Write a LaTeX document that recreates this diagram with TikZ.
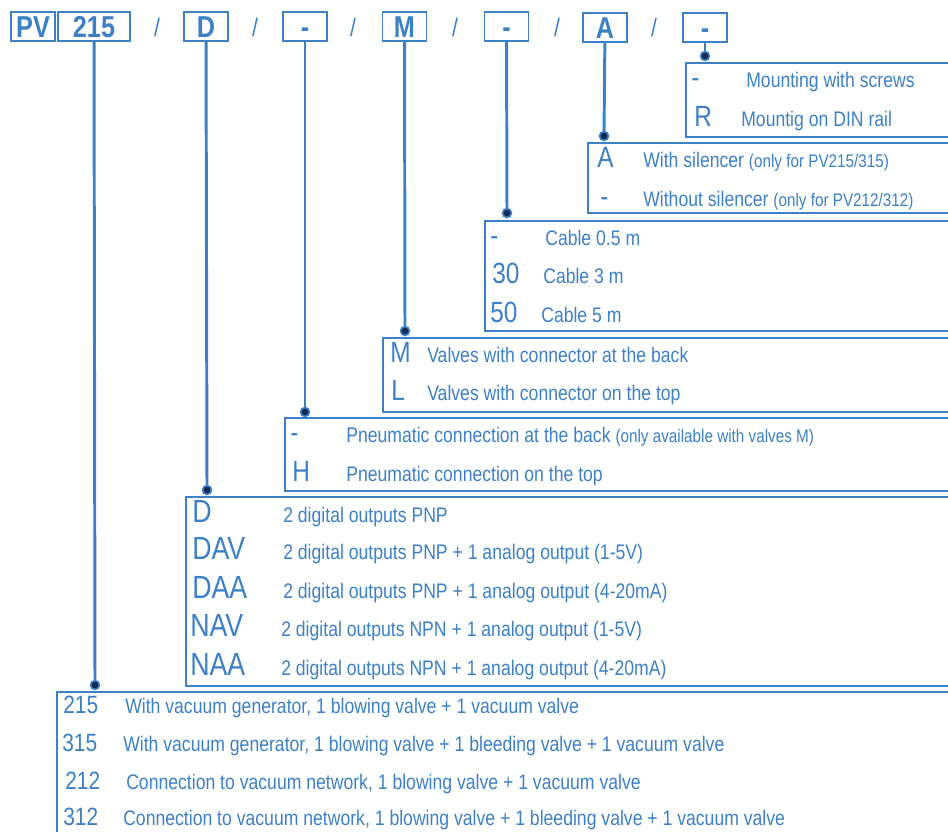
\documentclass[tikz,border=0pt]{standalone}
\usepackage{fontspec}
\setmainfont{Liberation Sans}[FakeStretch=0.835]
\usepackage{tikz}
\usetikzlibrary{positioning, fit}
\definecolor{myblue}{RGB}{60,128,198}
\definecolor{mynavy}{RGB}{20,40,80}
\tikzset{
  codebox/.style={rectangle, draw=myblue, line width=1.4pt,
    minimum width=1.1cm, minimum height=0.725cm, inner sep=0pt,
    text height=15.5pt, text depth=0pt, text=myblue,
    font=\fontsize{21.5}{23}\selectfont\bfseries},
  optbox/.style={rectangle, draw=myblue, line width=1pt, inner sep=0pt},
  leader/.style={myblue, line width=2.1pt},
  jdot/.style={circle, draw=myblue, fill=mynavy, minimum size=0.22cm,
    inner sep=0pt, line width=1.2pt},
  optcode/.style={anchor=base west, inner sep=0pt, text=myblue,
    font=\fontsize{20.8}{22}\selectfont},
  optdesc/.style={anchor=base west, inner sep=0pt, text=myblue,
    font=\fontsize{15}{17}\selectfont}
}
\newcommand{\optnote}[1]{{\fontsize{13}{15}\selectfont #1}}

\begin{document}
\begin{tikzpicture}[x=0.025cm, y=-0.025cm,
  slash/.style={inner sep=0pt, text=myblue, font=\fontsize{18}{20}\selectfont},
  bigcode/.style={optcode, font=\fontsize{22.8}{24}\selectfont},
  smallcode/.style={optcode, font=\fontsize{17.8}{19}\selectfont}
]
  \useasboundingbox (0,0) rectangle (948,831);
  \clip (0,0) rectangle (948,831);

  % Code boxes on top
  \node[codebox] (hPV) at (33,26.5) {PV};
  \node[codebox, minimum width=1.8cm] (hSeries) at (94,26.5) {215};
  \node[codebox] (hOut) at (206,26.5) {D};
  \node[codebox] (hPneu) at (305,26.5) {-};
  \node[codebox] (hValve) at (404.5,26.5) {M};
  \node[codebox] (hCable) at (506.5,26.5) {-};
  \node[codebox] (hSil) at (605,27.5) {A};
  \node[codebox] (hMount) at (705,27.5) {-};

  % Slashes
  \node[slash] (s1) at (157,27) {/};
  \node[slash] (s2) at (255,27) {/};
  \node[slash] (s3) at (353,27) {/};
  \node[slash] (s4) at (455,27) {/};
  \node[slash] (s5) at (557,27) {/};
  \node[slash] (s6) at (654,27) {/};

  % Option boxes
  \node[optbox, fit={(686,63) (960,137)}] (bMount) {};
  \node[optbox, fit={(588,143) (960,213)}] (bSil) {};
  \node[optbox, fit={(485,221) (960,331)}] (bCable) {};
  \node[optbox, fit={(383,338) (960,412)}] (bValve) {};
  \node[optbox, fit={(285,418) (960,491)}] (bPneu) {};
  \node[optbox, fit={(186,497) (960,686)}] (bOut) {};
  \node[optbox, fit={(57,692) (960,845)}] (bSeries) {};

  % Leader dots
  \node[jdot] (pMount) at (705,56) {};
  \node[jdot] (pSil) at (604,136) {};
  \node[jdot] (pCable) at (507,213) {};
  \node[jdot] (pValve) at (405,331) {};
  \node[jdot] (pPneu) at (305,412) {};
  \node[jdot] (pOut) at (207,490) {};
  \node[jdot] (pSeries) at (95,685) {};

  % Leaders
  \draw[leader] (hMount) -- (pMount);
  \draw[leader] (hSil) -- (pSil);
  \draw[leader] (hCable) -- (pCable);
  \draw[leader] (hValve) -- (pValve);
  \draw[leader] (hPneu) -- (pPneu);
  \draw[leader] (hOut) -- (pOut);
  \draw[leader] (hSeries) -- (pSeries);

  % Mounting
  \node[optcode] (cMount1) at (691,87) {-};
  \node[optdesc] (tMount1) at (746,87) {Mounting with screws};
  \node[optcode] (cMount2) at (694,126) {R};
  \node[optdesc] (tMount2) at (741,126) {Mountig on DIN rail};

  % Silencer
  \node[optcode] (cSil1) at (597,167) {A};
  \node[optdesc] (tSil1) at (643,167) {With silencer \optnote{(only for PV215/315)}};
  \node[optcode] (cSil2) at (600,206) {-};
  \node[optdesc] (tSil2) at (643,206) {Without silencer \optnote{(only for PV212/312)}};

  % Cable
  \node[optcode] (cCable1) at (490,245) {-};
  \node[optdesc] (tCable1) at (545,245) {Cable 0.5 m};
  \node[optcode] (cCable2) at (492,283) {30};
  \node[optdesc] (tCable2) at (543,283) {Cable 3 m};
  \node[optcode] (cCable3) at (490,322) {50};
  \node[optdesc] (tCable3) at (541,322) {Cable 5 m};

  % Valves
  \node[optcode] (cValve1) at (390,362) {M};
  \node[optdesc] (tValve1) at (427,362) {Valves with connector at the back};
  \node[optcode] (cValve2) at (391,400) {L};
  \node[optdesc] (tValve2) at (427,400) {Valves with connector on the top};

  % Pneumatic connection
  \node[optcode] (cPneu1) at (290,442) {-};
  \node[optdesc] (tPneu1) at (346,442) {Pneumatic connection at the back \optnote{(only available with valves M)}};
  \node[optcode] (cPneu2) at (292,481) {H};
  \node[optdesc] (tPneu2) at (346,481) {Pneumatic connection on the top};

  % Outputs
  \node[bigcode] (cOut1) at (192,522) {D};
  \node[optdesc] (tOut1) at (283,522) {2 digital outputs PNP};
  \node[bigcode] (cOut2) at (192,559) {DAV};
  \node[optdesc] (tOut2) at (283,559) {2 digital outputs PNP + 1 analog output (1-5V)};
  \node[bigcode] (cOut3) at (192,598) {DAA};
  \node[optdesc] (tOut3) at (283,598) {2 digital outputs PNP + 1 analog output (4-20mA)};
  \node[bigcode] (cOut4) at (190,636) {NAV};
  \node[optdesc] (tOut4) at (281,636) {2 digital outputs NPN + 1 analog output (1-5V)};
  \node[bigcode] (cOut5) at (190,675) {NAA};
  \node[optdesc] (tOut5) at (281,675) {2 digital outputs NPN + 1 analog output (4-20mA)};

  % Series
  \node[smallcode] (cSeries1) at (63,713) {215};
  \node[optdesc] (tSeries1) at (125,713) {With vacuum generator, 1 blowing valve + 1 vacuum valve};
  \node[smallcode] (cSeries2) at (62,751) {315};
  \node[optdesc] (tSeries2) at (123,751) {With vacuum generator, 1 blowing valve + 1 bleeding valve + 1 vacuum valve};
  \node[smallcode] (cSeries3) at (65,789) {212};
  \node[optdesc] (tSeries3) at (126,789) {Connection to vacuum network, 1 blowing valve + 1 vacuum valve};
  \node[smallcode] (cSeries4) at (63,825) {312};
  \node[optdesc] (tSeries4) at (123,825) {Connection to vacuum network, 1 blowing valve + 1 bleeding valve + 1 vacuum valve};
\end{tikzpicture}
\end{document}
